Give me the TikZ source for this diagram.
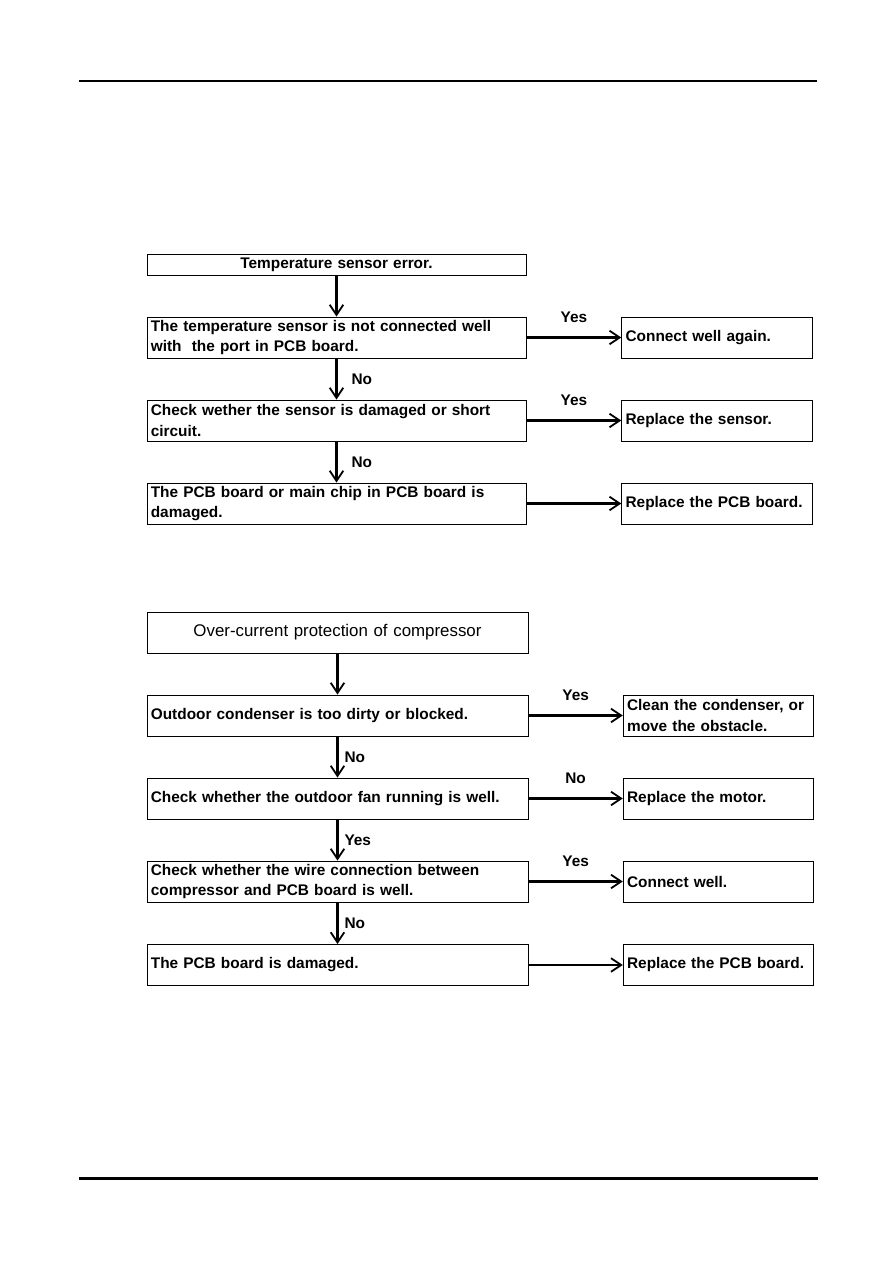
\documentclass[tikz,border=0pt]{standalone}
\usepackage{fontspec}
\setmainfont{Liberation Sans}
\usetikzlibrary{positioning, arrows.meta}

\begin{document}
\begin{tikzpicture}[
  x=0.2352mm, y=-0.2352mm,
  every node/.style={font=\fontsize{10.3}{13.6}\selectfont\bfseries},
  stepbox/.style={rectangle, draw, line width=0.6pt, minimum height=9.64mm, inner xsep=0.9mm, inner ysep=0pt, align=left},
  topbox/.style={stepbox, text width=87.34mm},
  lowbox/.style={stepbox, text width=87.8mm},
  fixbox/.style={stepbox, text width=43mm},
  flow/.style={draw, line width=1.4pt, -{Straight Barb[length=2.4mm, width=3.2mm, line width=1.2pt]}},
  answer/.style={inner sep=0pt}
]
\useasboundingbox (0,0) rectangle (893,1263);

% === RIGHE DI PAGINA ===
\draw[line width=1pt] (79,81) -- (817,81);
\draw[line width=2pt] (79,1178) -- (818,1178);

% === SENSORE DI TEMPERATURA ===
\node[topbox, minimum height=4.94mm, align=center] (tsErr) at (336.5,264.5) {Temperature sensor error.};
\node[topbox] (tsPort) at (336.5,337.5) {The temperature sensor is not connected well\\with\ \ the port in PCB board.};
\node[topbox] (tsShort) at (336.5,420.5) {Check wether the sensor is damaged or short\\circuit.};
\node[topbox] (tsChip) at (336.5,503.5) {The PCB board or main chip in PCB board is\\damaged.};

\node[fixbox] (tsAgain) at (717,337.5) {Connect well again.};
\node[fixbox] (tsSensor) at (717,420.5) {Replace the sensor.};
\node[fixbox] (tsPcb) at (717,503.5) {Replace the PCB board.};

\draw[flow] (tsErr) -- (tsPort);
\draw[flow] (tsPort) -- node[answer, midway, right=3.3mm] {No} (tsShort);
\draw[flow] (tsShort) -- node[answer, midway, right=3.3mm] {No} (tsChip);

\draw[flow] (tsPort) -- node[answer, midway, above=3.3mm] {Yes} (tsAgain);
\draw[flow] (tsShort) -- node[answer, midway, above=3.3mm] {Yes} (tsSensor);
\draw[flow] (tsChip) -- (tsPcb);

% === SOVRACORRENTE COMPRESSORE ===
\node[lowbox, align=center, font=\fontsize{11.3}{13.6}\selectfont] (ocComp) at (337.5,632.5) {Over-current protection of compressor};
\node[lowbox] (ocDirty) at (337.5,715.5) {Outdoor condenser is too dirty or blocked.};
\node[lowbox] (ocFan) at (337.5,798.5) {Check whether the outdoor fan running is well.};
\node[lowbox] (ocWire) at (337.5,881.5) {Check whether the wire connection between\\compressor and PCB board is well.};
\node[lowbox] (ocBoard) at (337.5,965) {The PCB board is damaged.};

\node[fixbox] (ocClean) at (718.5,715.5) {Clean the condenser, or\\move the obstacle.};
\node[fixbox] (ocMotor) at (718.5,798.5) {Replace the motor.};
\node[fixbox] (ocWell) at (718.5,881.5) {Connect well.};
\node[fixbox] (ocPcb) at (718.5,965) {Replace the PCB board.};

\draw[flow] (ocComp) -- (ocDirty);
\draw[flow] (ocDirty) -- node[answer, midway, right=1.4mm] {No} (ocFan);
\draw[flow] (ocFan) -- node[answer, midway, right=1.4mm] {Yes} (ocWire);
\draw[flow] (ocWire) -- node[answer, midway, right=1.4mm] {No} (ocBoard);

\draw[flow] (ocDirty) -- node[answer, midway, above=3.3mm] {Yes} (ocClean);
\draw[flow] (ocFan) -- node[answer, midway, above=3.3mm] {No} (ocMotor);
\draw[flow] (ocWire) -- node[answer, midway, above=3.3mm] {Yes} (ocWell);
\draw[flow] (ocBoard) -- (ocPcb);

\end{tikzpicture}
\end{document}
